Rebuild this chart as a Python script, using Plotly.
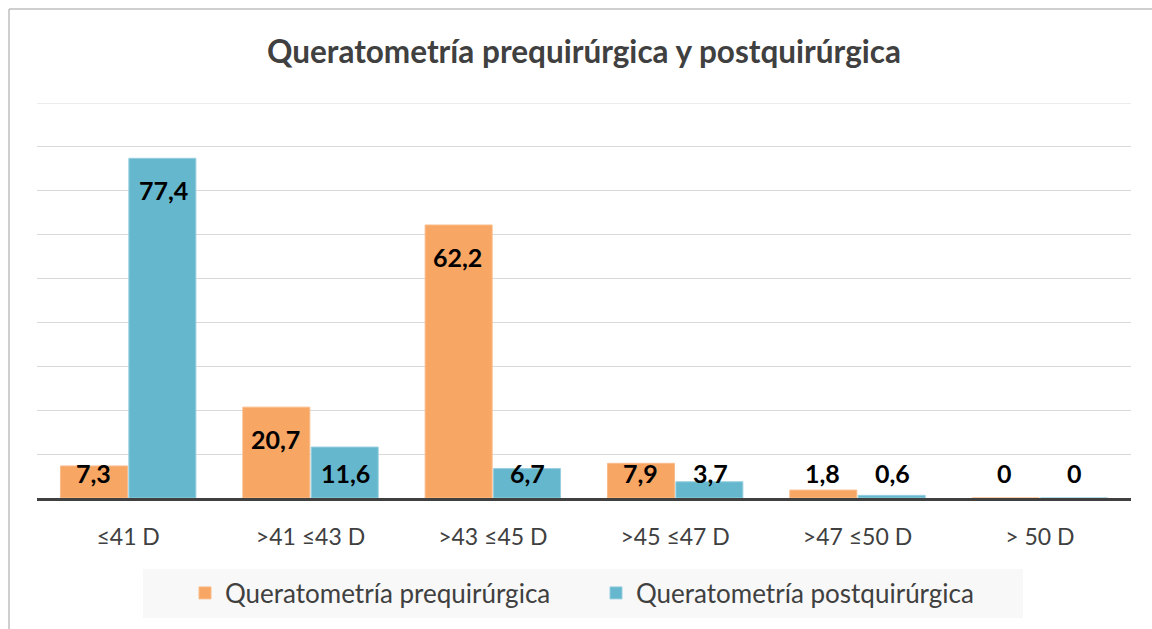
import plotly.graph_objects as go

categories = ["≤41 D", ">41 ≤43 D", ">43 ≤45 D", ">45 ≤47 D", ">47 ≤50 D", "> 50 D"]
pre_values = [7.3, 20.7, 62.2, 7.9, 1.8, 0]
post_values = [77.4, 11.6, 6.7, 3.7, 0.6, 0]
series_names = ["Queratometría prequirúrgica", "Queratometría postquirúrgica"]
title_text = "Queratometría prequirúrgica y postquirúrgica"

ORANGE = "#F7A664"
ORANGE_EDGE = "#F9BC8A"
BLUE = "#65B7CE"
BLUE_EDGE = "#96CEDF"
TEXT = "#404040"
FONT = "Lato"

W, H = 1152, 629
ML, MR, MT, MB = 37, 21, 103, 131
YMAX = 90
plot_h = H - MT - MB
px_per_unit = plot_h / YMAX


def fmt(v):
    if v == 0:
        return "0"
    return f"{v:.1f}".replace(".", ",")


fig = go.Figure()
fig.add_trace(go.Bar(
    x=categories, y=pre_values, name=series_names[0],
    marker=dict(color=ORANGE, line=dict(color=ORANGE_EDGE, width=1)),
))
fig.add_trace(go.Bar(
    x=categories, y=post_values, name=series_names[1],
    marker=dict(color=BLUE, line=dict(color=BLUE_EDGE, width=1)),
))

annotations = []
for vals, shift in ((pre_values, -35), (post_values, 35)):
    for c, v in zip(categories, vals):
        y_lab = max(v - 32 / px_per_unit, 25 / px_per_unit)
        annotations.append(dict(
            x=c, y=y_lab, xref="x", yref="y", text=f"<b>{fmt(v)}</b>",
            showarrow=False, xshift=shift, yanchor="middle",
            font=dict(family=FONT, size=25, color="#000000"),
        ))

annotations.append(dict(
    x=0.5, y=(H - 51 - MB) / plot_h, xref="paper", yref="paper",
    text=f"<b>{title_text}</b>", showarrow=False, yanchor="middle",
    font=dict(family=FONT, size=31.5, color=TEXT),
))


def px_x(p):
    return (p - ML) / (W - ML - MR)


def px_y(p):
    return (H - MB - p) / plot_h


shapes = [
    # outer chart border (left and top)
    dict(type="line", xref="paper", yref="paper", x0=px_x(9), x1=px_x(9),
         y0=px_y(640), y1=px_y(9), line=dict(color="#BFBFBF", width=1.5)),
    dict(type="line", xref="paper", yref="paper", x0=px_x(9), x1=px_x(1160),
         y0=px_y(9), y1=px_y(9), line=dict(color="#BFBFBF", width=1.5)),
    # top gridline at the range maximum
    dict(type="line", xref="paper", yref="y", x0=0, x1=1, y0=YMAX, y1=YMAX,
         line=dict(color="#D9D9D9", width=1), layer="below"),
    # legend background
    dict(type="rect", xref="paper", yref="paper", x0=px_x(143), x1=px_x(1023),
         y0=px_y(618), y1=px_y(569), fillcolor="#F8F8F8", line=dict(width=0),
         layer="below"),
]

fig.update_layout(
    width=W, height=H,
    margin=dict(l=ML, r=MR, t=MT, b=MB),
    paper_bgcolor="white", plot_bgcolor="white",
    barmode="group", bargap=0.25, bargroupgap=0.02,
    font=dict(family=FONT, color=TEXT),
    showlegend=True,
    legend=dict(
        orientation="h", x=px_x(185), xanchor="left", y=px_y(593), yanchor="middle",
        bgcolor="rgba(0,0,0,0)", font=dict(family=FONT, size=26, color=TEXT),
        itemwidth=30, traceorder="normal",
        entrywidth=366, entrywidthmode="pixels",
    ),
    annotations=annotations,
    shapes=shapes,
)
fig.update_xaxes(
    showline=True, linecolor="#404040", linewidth=3, ticks="",
    tickfont=dict(family=FONT, size=23, color=TEXT), showgrid=False,
    ticklabelstandoff=16,
)
fig.update_yaxes(
    range=[0, YMAX], dtick=10, showticklabels=False, showgrid=True,
    gridcolor="#D9D9D9", gridwidth=1, zeroline=False, fixedrange=True,
)

fig.write_html("out.html", config={"displayModeBar": False},
               post_script="document.body.style.margin='0';")
